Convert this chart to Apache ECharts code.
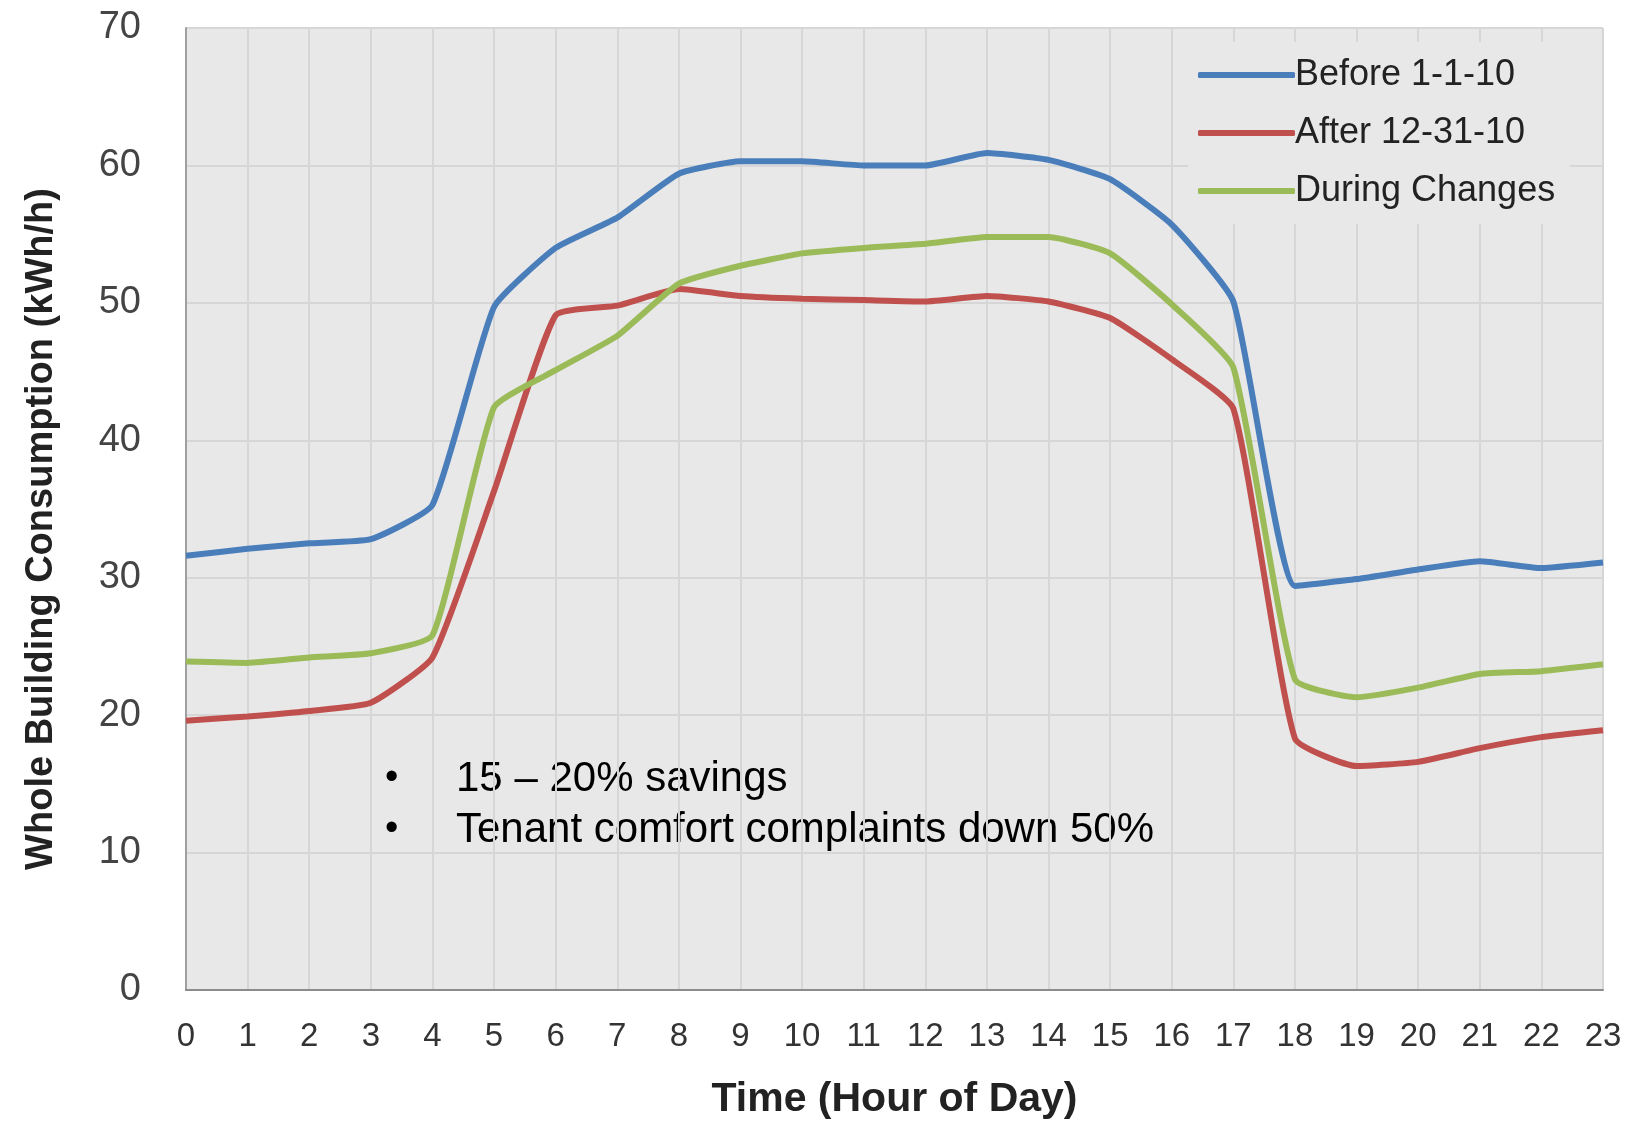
<!DOCTYPE html>
<html>
<head>
<meta charset="utf-8">
<script src="https://cdn.jsdelivr.net/npm/echarts@6/dist/echarts.min.js"></script>
<style>
  html, body { margin: 0; padding: 0; background: #fff; }
  #chart { width: 1638px; height: 1123px; }
</style>
</head>
<body>
<div id="chart"></div>
<script>
// hours of the day
var hours = ['0','1','2','3','4','5','6','7','8','9','10','11','12','13','14','15','16','17','18','19','20','21','22','23'];

var before = [31.6, 32.1, 32.5, 32.8, 35.3, 49.7, 54.0, 56.2, 59.4, 60.3, 60.3, 60.0,
              60.0, 60.9, 60.4, 59.0, 55.7, 50.1, 29.4, 29.9, 30.6, 31.2, 30.7, 31.1];
var after = [19.6, 19.9, 20.3, 20.9, 24.2, 36.3, 49.1, 49.8, 51.0, 50.5, 50.3, 50.2,
             50.1, 50.5, 50.1, 48.9, 45.9, 42.3, 18.3, 16.3, 16.6, 17.6, 18.4, 18.9];
var during = [23.9, 23.8, 24.2, 24.5, 25.8, 42.4, 45.1, 47.6, 51.4, 52.7, 53.6, 54.0,
              54.3, 54.8, 54.8, 53.6, 49.9, 45.3, 22.6, 21.3, 22.0, 23.0, 23.2, 23.7];

var notes = ['15 \u2013 20% savings', 'Tenant comfort complaints down 50%'];

var chart = echarts.init(document.getElementById('chart'));

var font = '"Liberation Sans", Arial, sans-serif';

chart.setOption({
  animation: false,
  textStyle: { fontFamily: font },
  grid: {
    left: 186,
    right: 35,
    top: 28,
    bottom: 133,
    outerBoundsMode: 'none',
    show: true,
    backgroundColor: '#e8e8e8',
    borderWidth: 0
  },
  legend: {
    data: [
      { name: 'Before 1-1-10', icon: 'roundRect' },
      { name: 'After 12-31-10', icon: 'roundRect' },
      { name: 'During Changes', icon: 'roundRect' }
    ],
    orient: 'vertical',
    left: 1188,
    top: 42,
    padding: [15, 15, 15, 10],
    backgroundColor: '#e8e8e8',
    itemWidth: 97,
    itemHeight: 6,
    itemGap: 22,
    textStyle: { fontSize: 36, color: '#222', fontFamily: font, padding: [0, 0, 0, -5] }
  },
  xAxis: {
    type: 'category',
    data: hours,
    boundaryGap: false,
    name: 'Time (Hour of Day)',
    nameLocation: 'middle',
    nameGap: 89,
    nameTextStyle: { fontSize: 41, fontWeight: 'bold', color: '#222' },
    axisLine: { lineStyle: { color: '#8c8c8c', width: 2 } },
    axisTick: { show: false },
    axisLabel: { fontSize: 33, color: '#333', margin: 30 },
    splitLine: { show: true, lineStyle: { color: '#d6d6d6', width: 2 } }
  },
  yAxis: {
    type: 'value',
    min: 0,
    max: 70,
    interval: 10,
    name: 'Whole Building Consumption (kWh/h)',
    nameLocation: 'middle',
    nameGap: 125,
    nameTextStyle: { fontSize: 38, fontWeight: 'bold', color: '#222', padding: [0, 40, 0, 0] },
    axisLine: { show: true, lineStyle: { color: '#a0a0a0', width: 2 } },
    axisTick: { show: false },
    axisLabel: { fontSize: 38, color: '#444', margin: 45 },
    splitLine: { lineStyle: { color: '#d6d6d6', width: 2 } }
  },
  graphic: [
    { type: 'text', left: 385, top: 760, style: { text: '\u2022', fontSize: 38, fill: '#000', fontFamily: font } },
    { type: 'text', left: 456, top: 758, style: { text: notes[0], fontSize: 42, fill: '#000', fontFamily: font } },
    { type: 'text', left: 385, top: 811, style: { text: '\u2022', fontSize: 38, fill: '#000', fontFamily: font } },
    { type: 'text', left: 456, top: 809, style: { text: notes[1], fontSize: 42, fill: '#000', fontFamily: font } }
  ],
  series: [
    {
      name: 'Before 1-1-10',
      type: 'line',
      data: before,
      symbol: 'none',
      smooth: 0.15,
      itemStyle: { color: '#4a7ebb' },
      lineStyle: { width: 6, color: '#4a7ebb' }
    },
    {
      name: 'After 12-31-10',
      type: 'line',
      data: after,
      symbol: 'none',
      smooth: 0.15,
      itemStyle: { color: '#c0504d' },
      lineStyle: { width: 6, color: '#c0504d' }
    },
    {
      name: 'During Changes',
      type: 'line',
      data: during,
      symbol: 'none',
      smooth: 0.15,
      itemStyle: { color: '#9bbb59' },
      lineStyle: { width: 6, color: '#9bbb59' }
    }
  ]
});
</script>
</body>
</html>
